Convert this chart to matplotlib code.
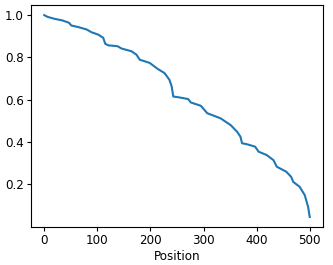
import matplotlib
matplotlib.use("Agg")
import matplotlib.pyplot as plt

# knots
position = [0, 6, 18.6, 34, 46.6, 51, 64.7, 80, 89, 101.5, 111, 115, 121, 138,
            145.6, 164.4, 173.6, 179.9, 198.6, 214, 226.5, 235.8, 240, 243,
            251.6, 271, 276, 295, 307, 332, 351, 363, 369.5, 372.5, 382, 397,
            403.8, 419, 431.7, 437.9, 456, 465, 469, 481, 490.7, 497, 500]
value = [1.0, 0.992, 0.983, 0.975, 0.964, 0.951, 0.943, 0.932, 0.919, 0.908,
         0.893, 0.864, 0.857, 0.853, 0.842, 0.829, 0.813, 0.789, 0.774, 0.745,
         0.726, 0.694, 0.663, 0.615, 0.612, 0.603, 0.587, 0.571, 0.536, 0.512,
         0.480, 0.449, 0.425, 0.394, 0.389, 0.378, 0.354, 0.338, 0.314, 0.283,
         0.259, 0.235, 0.211, 0.188, 0.148, 0.092, 0.045]

plt.rcParams['font.size'] = 8.6
fig = plt.figure(figsize=(3.33, 2.65), dpi=100)
ax = fig.add_axes([0.093, 0.143, 0.877, 0.838])
ax.plot(position, value, color='#1f77b4', linewidth=1.5)
ax.set_xlabel('Position', labelpad=2)
ax.set_xticks([0, 100, 200, 300, 400, 500])
ax.set_yticks([0.2, 0.4, 0.6, 0.8, 1.0])
ax.tick_params(length=3, pad=2)
fig.savefig('out.png', dpi=100)
